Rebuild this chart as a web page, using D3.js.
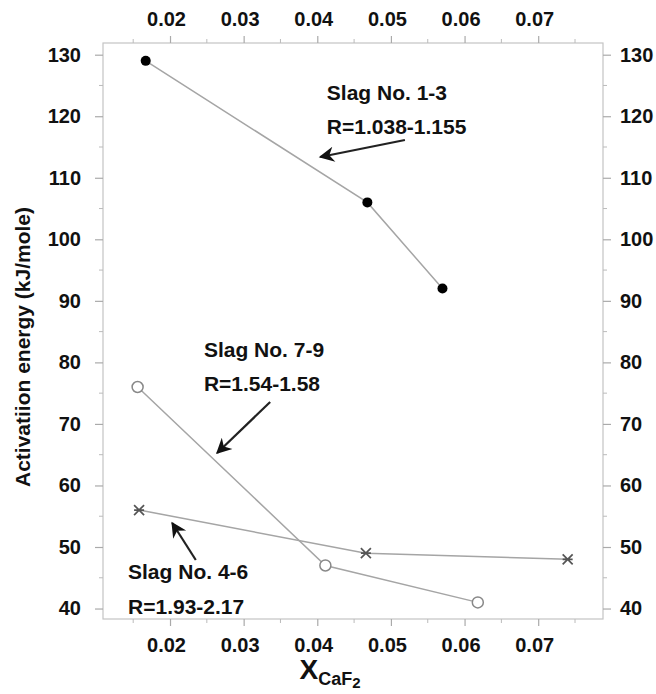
<!DOCTYPE html>
<html lang="en">
<head>
  <meta charset="utf-8">
  <title>Activation energy vs XCaF2</title>
  <script src="https://d3js.org/d3.v7.min.js"></script>
  <style>
  body { margin: 0; background: #fff; }
  text {
      font-family: "Liberation Sans", Arial, sans-serif;
      font-weight: bold;
      fill: #111;
  }
  </style>
</head>
<body>
  <script>
    // series
    var slag13_x = [0.0167, 0.0468, 0.0570];
    var slag13_y = [129, 106, 92];
    var slag79_x = [0.0156, 0.0411, 0.0618];
    var slag79_y = [76, 47, 41];
    var slag46_x = [0.0158, 0.0466, 0.0740];
    var slag46_y = [56, 49, 48];

    var xTicks = [0.02, 0.03, 0.04, 0.05, 0.06, 0.07];
    var xMinor = [0.015, 0.025, 0.035, 0.045, 0.055, 0.065, 0.075];
    var yTicks = [40, 50, 60, 70, 80, 90, 100, 110, 120, 130];
    var yMinor = [45, 55, 65, 75, 85, 95, 105, 115, 125];

    var w = 656, h = 694;
    var mLeft = 103, mRight = 603, mTop = 43, mBottom = 619;

    var x = d3.scaleLinear().domain([0.0109, 0.0788]).range([mLeft, mRight]);
    var y = d3.scaleLinear().domain([38.3, 131.9]).range([mBottom, mTop]);

    var svg = d3.select('body').append('svg')
      .attr('width', w)
      .attr('height', h);

    function zip(xs, ys) {
      return xs.map(function(d, i) { return {x: d, y: ys[i]}; });
    }

    // frame
    svg.append('rect')
      .attr('x', mLeft).attr('y', mTop)
      .attr('width', mRight - mLeft).attr('height', mBottom - mTop)
      .attr('fill', 'none')
      .attr('stroke', '#c4c4c4')
      .attr('stroke-width', 1.2);

    var fmt = d3.format('.2f');

    // axes: major ticks outward
    function addAxis(axis, ticks, g) {
      axis.tickValues(ticks).tickSizeOuter(0);
      g.call(axis);
      g.select('.domain').remove();
      g.selectAll('.tick line').attr('stroke', '#aaa').attr('stroke-width', 1.2);
      g.selectAll('.tick text').attr('font-size', 20).attr('fill', '#111')
        .style('font-family', '"Liberation Sans", Arial, sans-serif').style('font-weight', 'bold');
      return g;
    }

    var gl = svg.append('g').attr('transform', 'translate(' + mLeft + ',0)');
    addAxis(d3.axisLeft(y).tickSize(8).tickPadding(14), yTicks, gl);
    var gr = svg.append('g').attr('transform', 'translate(' + mRight + ',0)');
    addAxis(d3.axisRight(y).tickSize(8).tickPadding(9), yTicks, gr);
    var gt = svg.append('g').attr('transform', 'translate(0,' + mTop + ')');
    addAxis(d3.axisTop(x).tickSize(7).tickPadding(10).tickFormat(fmt), xTicks, gt);
    var gb = svg.append('g').attr('transform', 'translate(0,' + mBottom + ')');
    addAxis(d3.axisBottom(x).tickSize(7).tickPadding(12).tickFormat(fmt), xTicks, gb);
    gt.selectAll('.tick text').attr('dx', -4);
    gb.selectAll('.tick text').attr('dx', -4);

    // minor ticks
    gl.selectAll('.mt').data(yMinor).enter().append('line')
      .attr('x1', 0).attr('x2', -4).attr('y1', y).attr('y2', y)
      .attr('stroke', '#bbb');
    gr.selectAll('.mt').data(yMinor).enter().append('line')
      .attr('x1', 0).attr('x2', 4).attr('y1', y).attr('y2', y)
      .attr('stroke', '#bbb');
    gt.selectAll('.mt').data(xMinor).enter().append('line')
      .attr('y1', 0).attr('y2', -4).attr('x1', x).attr('x2', x)
      .attr('stroke', '#bbb');
    gb.selectAll('.mt').data(xMinor).enter().append('line')
      .attr('y1', 0).attr('y2', 4).attr('x1', x).attr('x2', x)
      .attr('stroke', '#bbb');

    var line = d3.line()
      .x(function(d) { return x(d.x); })
      .y(function(d) { return y(d.y); });

    var s13 = zip(slag13_x, slag13_y);
    var s79 = zip(slag79_x, slag79_y);
    var s46 = zip(slag46_x, slag46_y);

    [s13, s79, s46].forEach(function(s) {
      svg.append('path')
        .datum(s)
        .attr('d', line)
        .attr('fill', 'none')
        .attr('stroke', '#a5a5a5')
        .attr('stroke-width', 1.5);
    });

    // filled circles
    svg.selectAll('.dot13').data(s13).enter().append('circle')
      .attr('cx', function(d) { return x(d.x); })
      .attr('cy', function(d) { return y(d.y); })
      .attr('r', 5)
      .attr('fill', '#000');

    // open circles
    svg.selectAll('.dot79').data(s79).enter().append('circle')
      .attr('cx', function(d) { return x(d.x); })
      .attr('cy', function(d) { return y(d.y); })
      .attr('r', 5.5)
      .attr('fill', '#fff')
      .attr('stroke', '#888')
      .attr('stroke-width', 1.5);

    // star markers
    var star = svg.selectAll('.dot46').data(s46).enter().append('g')
      .attr('transform', function(d) { return 'translate(' + x(d.x) + ',' + y(d.y) + ')'; });
    star.append('path')
      .attr('d', 'M-5,-5L5,5M-5,5L5,-5M-5,0L5,0')
      .attr('stroke', '#555')
      .attr('stroke-width', 1.7);

    // annotations
    var notes = [
      {tx: 0.0413, t1: 122.64, t2: 117.11, l1: 'Slag No. 1-3', l2: 'R=1.038-1.155',
       ax: 0.0519, ay: 116.14, bx: 0.0404, by: 113.37},
      {tx: 0.0246, t1: 80.88, t2: 75.35, l1: 'Slag No. 7-9', l2: 'R=1.54-1.58',
       ax: 0.0336, ay: 73.56, bx: 0.0264, by: 65.28},
      {tx: 0.0143, t1: 44.8, t2: 39.1, l1: 'Slag No. 4-6', l2: 'R=1.93-2.17',
       ax: 0.0235, ay: 47.89, bx: 0.0203, by: 53.9}
    ];

    svg.append('defs').append('marker')
      .attr('id', 'arrow')
      .attr('viewBox', '0 0 10 10')
      .attr('refX', 9).attr('refY', 5)
      .attr('markerWidth', 8).attr('markerHeight', 7)
      .attr('orient', 'auto')
      .append('path')
      .attr('d', 'M0,0L10,5L0,10L3,5Z')
      .attr('fill', '#111');

    notes.forEach(function(n) {
      svg.append('text').attr('x', x(n.tx)).attr('y', y(n.t1))
        .attr('font-size', 21).text(n.l1);
      svg.append('text').attr('x', x(n.tx)).attr('y', y(n.t2))
        .attr('font-size', 21).text(n.l2);
      svg.append('line')
        .attr('x1', x(n.ax)).attr('y1', y(n.ay))
        .attr('x2', x(n.bx)).attr('y2', y(n.by))
        .attr('stroke', '#222')
        .attr('stroke-width', 2.2)
        .attr('marker-end', 'url(#arrow)');
    });

    // axis titles
    svg.append('text')
      .attr('text-anchor', 'middle')
      .attr('transform', 'translate(30,347) rotate(-90)')
      .attr('font-size', 21)
      .text('Activatiion energy (kJ/mole)');

    var xt = svg.append('text')
      .attr('x', 330).attr('y', 679)
      .attr('text-anchor', 'middle')
      .attr('font-size', 28);
    xt.append('tspan').text('X');
    xt.append('tspan').attr('font-size', 18).attr('dy', 6).text('CaF');
    xt.append('tspan').attr('font-size', 15).attr('dy', 3).text('2');
  </script>
</body>
</html>
